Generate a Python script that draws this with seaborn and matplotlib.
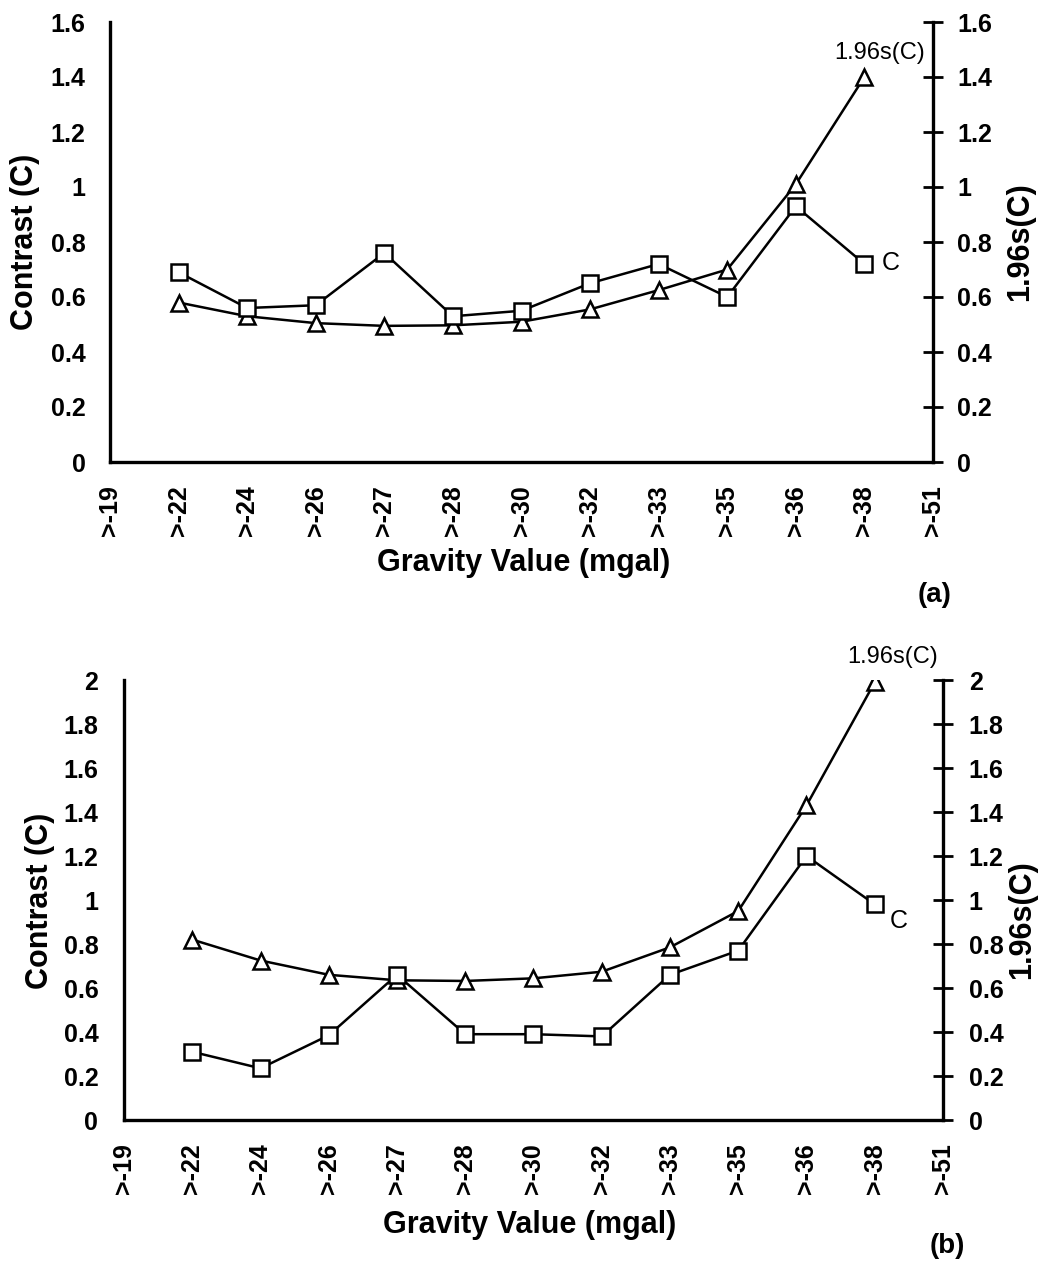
import pandas as pd
import seaborn as sns
import matplotlib
matplotlib.use("Agg")
import matplotlib.pyplot as plt

# gravity classes (x axis) - the data only sits on the inner eleven
gravity = [">-19", ">-22", ">-24", ">-26", ">-27", ">-28", ">-30",
           ">-32", ">-33", ">-35", ">-36", ">-38", ">-51"]
measured = gravity[1:-1]

# panel (a)
contrast_a = [0.69, 0.56, 0.57, 0.76, 0.53, 0.55, 0.65, 0.72, 0.60, 0.93, 0.72]
sig_a = [0.58, 0.53, 0.505, 0.495, 0.497, 0.51, 0.555, 0.625, 0.70, 1.01, 1.40]

# panel (b)
contrast_b = [0.31, 0.235, 0.385, 0.66, 0.39, 0.39, 0.38, 0.66, 0.77, 1.20, 0.98]
sig_b = [0.82, 0.725, 0.66, 0.635, 0.632, 0.644, 0.674, 0.785, 0.95, 1.43, 1.99]

yticks_a = [0, 0.2, 0.4, 0.6, 0.8, 1, 1.2, 1.4, 1.6]
yticks_b = [0, 0.2, 0.4, 0.6, 0.8, 1, 1.2, 1.4, 1.6, 1.8, 2]

sns.set_style("white")
plt.rcParams["font.family"] = ["Liberation Sans", "DejaVu Sans"]
plt.rcParams["text.color"] = "black"
plt.rcParams["xtick.color"] = "black"
plt.rcParams["ytick.color"] = "black"
plt.rcParams["axes.labelcolor"] = "black"

fig = plt.figure(figsize=(10.38, 12.63), dpi=100)
W, H = 1038, 1263


def fx(px):
    return px / W


def fy(py):
    return 1 - py / H


def panel(left, right, top, bottom, contrast, sig, yticks, ypad, c_off, s_off):
    ax = fig.add_axes([fx(left), fy(bottom), fx(right - left), (bottom - top) / H])
    pos = [gravity.index(g) for g in measured]
    df = pd.DataFrame({"pos": pos, "C": contrast, "S": sig})

    line_kw = dict(color="black", linewidth=1.8, markersize=11,
                   markerfacecolor="white", markeredgecolor="black",
                   markeredgewidth=1.8)
    sns.lineplot(data=df, x="pos", y="S", ax=ax, marker="^", **line_kw)
    sns.lineplot(data=df, x="pos", y="C", ax=ax, marker="s", **line_kw)

    ax.set_xlim(0, len(gravity) - 1)
    ax.set_ylim(yticks[0], yticks[-1])
    ax.set_xticks(range(len(gravity)))
    ax.set_xticklabels(gravity, rotation=90, fontsize=18, fontweight="bold")
    ax.set_yticks(yticks)
    ax.set_yticklabels([f"{t:g}" for t in yticks], fontsize=18, fontweight="bold")
    ax.set_xlabel("")
    ax.set_ylabel("")

    ax.spines["top"].set_visible(False)
    for sp in ["left", "right", "bottom"]:
        ax.spines[sp].set_linewidth(2.4)
        ax.spines[sp].set_color("black")
    ax.tick_params(axis="both", direction="inout", length=15, width=2, color="black")
    ax.tick_params(axis="y", right=True, labelright=True, pad=ypad)
    for t in ax.yaxis.get_major_ticks():
        t.label2.set_fontweight("bold")
        t.label2.set_fontsize(18)
    ax.tick_params(axis="x", pad=9)

    # curve names at the last point
    ax.annotate("1.96s(C)", xy=(pos[-1], sig[-1]), xytext=s_off,
                textcoords="offset points", ha="center", va="center", fontsize=17)
    ax.annotate("C", xy=(pos[-1], contrast[-1]), xytext=c_off,
                textcoords="offset points", ha="center", va="center", fontsize=18)
    return ax


ax_a = panel(110, 933, 22, 462, contrast_a, sig_a, yticks_a, 10, (19, 1), (11, 17))
ax_b = panel(124, 943, 680, 1120, contrast_b, sig_b, yticks_b, 11, (17, -12), (13, 18))

lab = dict(ha="center", va="center", fontsize=22, fontweight="bold")
fig.text(fx(25), fy(242), "Contrast (C)", rotation=90, **lab)
fig.text(fx(1020), fy(242), "1.96s(C)", rotation=90, **lab)
fig.text(fx(524), fy(563), "Gravity Value (mgal)", **lab)
fig.text(fx(935), fy(595), "(a)", ha="center", va="center", fontsize=20, fontweight="bold")

fig.text(fx(40), fy(901), "Contrast (C)", rotation=90, **lab)
fig.text(fx(1022), fy(920), "1.96s(C)", rotation=90, **lab)
fig.text(fx(530), fy(1225), "Gravity Value (mgal)", **lab)
fig.text(fx(947), fy(1246), "(b)", ha="center", va="center", fontsize=20, fontweight="bold")

fig.savefig("out.png", dpi=100, facecolor="white")
